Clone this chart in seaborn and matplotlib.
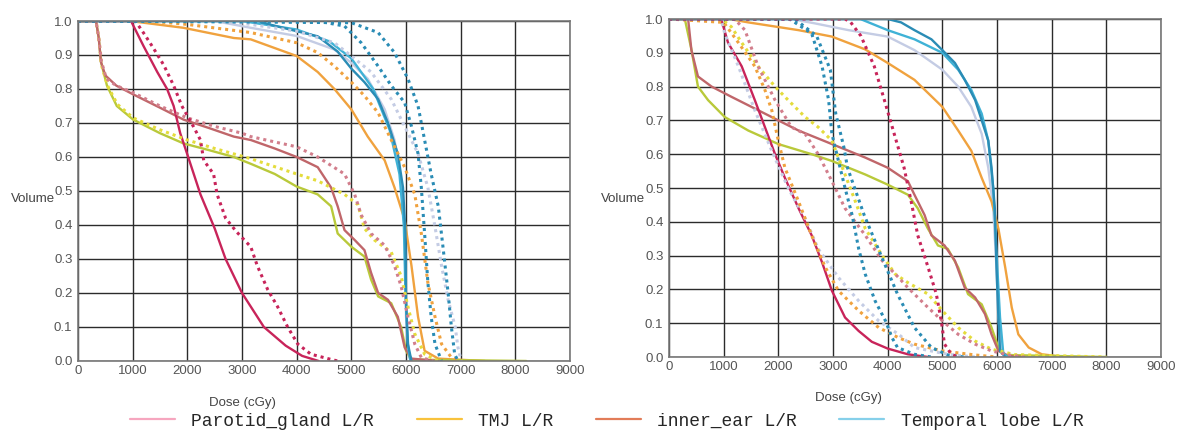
import matplotlib
matplotlib.use("Agg")
import matplotlib.pyplot as plt
import seaborn as sns
import pandas as pd
from matplotlib.lines import Line2D

# ---- data: (dose cGy, volume fraction) ----
# left panel, solid (plan A)
l_parotid_l = [(0, 1), (330, 1), (380, 0.95), (420, 0.88), (500, 0.84), (700, 0.81), (1000, 0.785),
               (1500, 0.745), (1930, 0.71), (2400, 0.685), (2850, 0.66), (3160, 0.65), (3600, 0.625),
               (4000, 0.60), (4385, 0.57), (4630, 0.51), (4750, 0.455), (4875, 0.385), (5060, 0.356),
               (5240, 0.326), (5360, 0.26), (5490, 0.20), (5670, 0.18), (5850, 0.13), (5975, 0.04),
               (6100, 0.007), (6590, 0)]
l_parotid_r = [(0, 1), (330, 1), (380, 0.95), (420, 0.88), (530, 0.81), (710, 0.75), (1010, 0.71),
               (1500, 0.67), (1930, 0.64), (2400, 0.62), (2850, 0.60), (3160, 0.58), (3600, 0.55),
               (4000, 0.513), (4385, 0.49), (4630, 0.455), (4750, 0.375), (5000, 0.336), (5240, 0.307),
               (5360, 0.24), (5490, 0.19), (5730, 0.17), (5910, 0.10), (6000, 0.03), (6100, 0.004), (8200, 0)]
l_inner_ear = [(0, 1), (970, 1), (1200, 0.926), (1450, 0.85), (1630, 0.80), (1750, 0.75), (1870, 0.67),
               (1995, 0.61), (2240, 0.49), (2500, 0.39), (2700, 0.30), (3000, 0.20), (3400, 0.10),
               (3800, 0.045), (4100, 0.015), (4400, 0)]
l_tmj = [(0, 1), (950, 1), (1930, 0.98), (2850, 0.95), (3160, 0.946), (4000, 0.897), (4385, 0.85),
         (4690, 0.80), (5000, 0.74), (5300, 0.66), (5610, 0.59), (5790, 0.51), (5975, 0.415), (6100, 0.28),
         (6220, 0.13), (6340, 0.03), (6590, 0.007), (7440, 0)]
l_temporal_lav = [(0, 1), (2500, 1), (3160, 0.98), (4000, 0.956), (4690, 0.916), (5000, 0.877), (5300, 0.83),
                  (5610, 0.74), (5790, 0.65), (5910, 0.53), (5975, 0.375), (6000, 0.13), (6060, 0.01), (6200, 0)]
l_temporal_cyan = [(0, 1), (3000, 1), (4000, 0.975), (4600, 0.94), (5000, 0.89), (5400, 0.80), (5700, 0.68),
                   (5880, 0.55), (5960, 0.40), (5990, 0.2), (6030, 0.05), (6080, 0)]
l_temporal_teal = [(0, 1), (3300, 1), (3500, 0.99), (4000, 0.97), (4385, 0.955), (4750, 0.91), (5000, 0.86),
                   (5240, 0.82), (5490, 0.77), (5670, 0.70), (5850, 0.61), (5945, 0.51), (5990, 0.375),
                   (6000, 0.18), (6035, 0.05), (6100, 0)]
# left panel, dotted (plan B)
l_inner_ear_d = [(0, 1), (1050, 1), (1220, 0.96), (1380, 0.92), (1570, 0.87), (1750, 0.81), (1900, 0.75),
                 (2110, 0.69), (2240, 0.65), (2300, 0.59), (2480, 0.55), (2545, 0.49), (2700, 0.42),
                 (2900, 0.38), (3160, 0.336), (3280, 0.28), (3470, 0.21), (3650, 0.16), (3835, 0.10),
                 (4020, 0.05), (4260, 0.02), (4570, 0.007), (4750, 0)]
l_parotid_l_d = [(0, 1), (330, 1), (380, 0.95), (430, 0.88), (520, 0.83), (700, 0.81), (1000, 0.79),
                 (1500, 0.75), (2000, 0.715), (2500, 0.69), (3000, 0.67), (3160, 0.66), (4000, 0.63),
                 (4385, 0.60), (4875, 0.55), (5060, 0.49), (5180, 0.43), (5360, 0.375), (5610, 0.34),
                 (5790, 0.28), (5910, 0.22), (6035, 0.13), (6160, 0.05), (6280, 0.01), (6500, 0)]
l_parotid_r_d = [(0, 1), (330, 1), (380, 0.95), (430, 0.87), (540, 0.81), (720, 0.755), (1010, 0.715),
                 (1500, 0.68), (2000, 0.65), (2500, 0.625), (3160, 0.595), (4000, 0.55), (4385, 0.53),
                 (4875, 0.49), (5120, 0.46), (5240, 0.39), (5420, 0.356), (5730, 0.32), (5910, 0.25),
                 (6035, 0.16), (6160, 0.08), (6340, 0.02), (6590, 0)]
l_tmj_d = [(0, 1), (1300, 1), (2000, 0.99), (3160, 0.966), (4000, 0.936), (4385, 0.907), (4690, 0.867),
           (5000, 0.82), (5240, 0.78), (5490, 0.73), (5730, 0.65), (5975, 0.57), (6160, 0.49), (6280, 0.375),
           (6400, 0.23), (6530, 0.13), (6650, 0.05), (6830, 0.01), (7000, 0)]
l_temporal_lav_d = [(0, 1), (2600, 1), (3160, 0.99), (4000, 0.97), (4690, 0.936), (5000, 0.897), (5360, 0.85),
                    (5730, 0.77), (5975, 0.69), (6220, 0.61), (6400, 0.51), (6530, 0.395), (6650, 0.28),
                    (6770, 0.18), (6900, 0.10), (6950, 0.04), (7010, 0)]
l_temporal_teal_d = [(0, 1), (4385, 1), (4875, 0.985), (5180, 0.936), (5490, 0.867), (5730, 0.81),
                     (5975, 0.76), (6100, 0.69), (6220, 0.61), (6280, 0.51), (6340, 0.375), (6400, 0.23),
                     (6460, 0.13), (6530, 0.05), (6650, 0)]
l_temporal_teal2_d = [(0, 1), (5000, 0.995), (5490, 0.966), (5790, 0.907), (6035, 0.83), (6220, 0.75),
                      (6340, 0.65), (6460, 0.55), (6590, 0.455), (6680, 0.33), (6770, 0.20), (6830, 0.10),
                      (6890, 0.02), (6950, 0)]

# right panel, solid
r_parotid_l = [(0, 1), (350, 1), (410, 0.908), (530, 0.83), (780, 0.80), (1140, 0.77), (1755, 0.72),
               (2000, 0.70), (2370, 0.67), (2980, 0.63), (3590, 0.59), (4000, 0.56), (4370, 0.52),
               (4490, 0.48), (4675, 0.42), (4800, 0.36), (5040, 0.33), (5230, 0.285), (5410, 0.205),
               (5600, 0.176), (5780, 0.127), (5900, 0.067), (6025, 0.018), (6210, 0.003), (6500, 0)]
r_parotid_r = [(0, 1), (290, 1), (410, 0.91), (530, 0.80), (715, 0.76), (1020, 0.71), (1450, 0.67),
               (2000, 0.63), (2610, 0.60), (2980, 0.58), (3590, 0.54), (4000, 0.51), (4370, 0.48),
               (4550, 0.44), (4735, 0.38), (4920, 0.33), (5100, 0.32), (5290, 0.265), (5470, 0.186),
               (5720, 0.156), (5900, 0.087), (6025, 0.028), (6150, 0.006), (8000, 0)]
r_inner_ear = [(0, 1), (950, 1), (990, 0.98), (1080, 0.93), (1330, 0.86), (1570, 0.76), (1755, 0.68),
               (1940, 0.60), (2120, 0.53), (2370, 0.44), (2610, 0.36), (2800, 0.28), (2980, 0.196),
               (3220, 0.117), (3470, 0.077), (3710, 0.045), (4000, 0.025), (4370, 0.008), (4740, 0)]
r_tmj = [(0, 1), (1100, 1), (1450, 0.99), (2370, 0.967), (2980, 0.948), (3590, 0.91), (4000, 0.87),
         (4490, 0.82), (5000, 0.74), (5290, 0.67), (5530, 0.61), (5720, 0.53), (5900, 0.46), (6025, 0.38),
         (6150, 0.265), (6270, 0.146), (6390, 0.067), (6580, 0.028), (6820, 0.008), (7250, 0)]
r_temporal_lav = [(0, 1), (2240, 1), (2670, 0.987), (3285, 0.967), (4000, 0.948), (4490, 0.908), (5000, 0.85),
                  (5290, 0.80), (5530, 0.74), (5720, 0.66), (5840, 0.56), (5930, 0.44), (5990, 0.265),
                  (6025, 0.117), (6085, 0.018), (6210, 0)]
r_temporal_cyan = [(0, 1), (3500, 1), (4000, 0.967), (4490, 0.94), (5000, 0.90), (5290, 0.85), (5530, 0.79),
                   (5720, 0.72), (5840, 0.64), (5930, 0.50), (5990, 0.31), (6055, 0.117), (6115, 0.01), (6200, 0)]
r_temporal_teal = [(0, 1), (4000, 1), (4245, 0.99), (4490, 0.967), (4800, 0.94), (5000, 0.908), (5230, 0.87),
                   (5410, 0.82), (5600, 0.76), (5720, 0.70), (5840, 0.64), (5900, 0.56), (5960, 0.44),
                   (5990, 0.265), (6025, 0.117), (6055, 0.018), (6150, 0)]
# right panel, dotted
r_parotid_r_d = [(0, 1), (960, 1), (1140, 0.977), (1330, 0.93), (1630, 0.86), (1940, 0.80), (2180, 0.76),
                 (2490, 0.71), (2730, 0.68), (2980, 0.64), (3220, 0.54), (3410, 0.46), (3590, 0.38),
                 (3900, 0.30), (4140, 0.245), (4370, 0.22), (4740, 0.186), (5000, 0.137), (5290, 0.087),
                 (5600, 0.047), (5900, 0.023), (6330, 0.007), (8000, 0)]
r_tmj_d = [(0, 1), (1000, 0.99), (1270, 0.93), (1570, 0.86), (1755, 0.79), (1880, 0.73), (2000, 0.64),
           (2120, 0.56), (2370, 0.46), (2610, 0.36), (2860, 0.265), (3100, 0.196), (3470, 0.137),
           (3835, 0.087), (4200, 0.057), (4490, 0.038), (5000, 0.018), (5600, 0.006), (6000, 0)]
r_temporal_lav_d = [(0, 1), (950, 1), (1020, 0.957), (1270, 0.86), (1570, 0.73), (1880, 0.61), (2180, 0.50),
                    (2490, 0.41), (2730, 0.32), (3100, 0.235), (3470, 0.166), (3835, 0.107), (4200, 0.067),
                    (4490, 0.028), (5100, 0.008), (5600, 0)]
r_parotid_l_d = [(0, 1), (1200, 1), (1390, 0.967), (1630, 0.86), (1940, 0.76), (2240, 0.68), (2490, 0.66),
                 (2730, 0.60), (2980, 0.52), (3220, 0.44), (3590, 0.36), (3900, 0.285), (4200, 0.235),
                 (4370, 0.205), (4740, 0.146), (5000, 0.107), (5290, 0.067), (5600, 0.038), (5900, 0.018),
                 (6210, 0.006), (6500, 0)]
r_temporal_teal_d = [(0, 1), (2200, 1), (2300, 0.99), (2610, 0.957), (2800, 0.86), (2920, 0.76), (2980, 0.66),
                     (3100, 0.58), (3220, 0.50), (3350, 0.42), (3470, 0.32), (3590, 0.245), (3770, 0.166),
                     (3960, 0.107), (4080, 0.057), (4180, 0.028), (4490, 0.008), (4800, 0)]
r_temporal_teal2_d = [(0, 1), (2300, 1), (2700, 0.95), (2950, 0.85), (3050, 0.72), (3200, 0.62), (3265, 0.56),
                      (3570, 0.42), (3880, 0.30), (4180, 0.186), (4490, 0.087), (4800, 0.028), (5100, 0.006),
                      (5400, 0)]
r_inner_ear_d = [(0, 1), (3220, 1), (3325, 0.99), (3510, 0.95), (3755, 0.86), (3940, 0.76), (4120, 0.66),
                 (4300, 0.56), (4430, 0.46), (4550, 0.36), (4740, 0.265), (4890, 0.186), (4980, 0.107),
                 (5040, 0.038), (5165, 0.008), (5290, 0)]

legend_labels = ["Parotid_gland L/R", "TMJ L/R", "inner_ear L/R", "Temporal lobe L/R"]
legend_colors = ["#f6a6bf", "#f8c23c", "#e27c58", "#86d0ea"]

C_ROSE, C_GREEN, C_CRIMSON = "#c0666a", "#b9c93a", "#c8245a"
C_ORANGE, C_LAV, C_CYAN, C_TEAL = "#f0a23e", "#c4cce4", "#3fb2d6", "#2a8cb5"
C_PINK_D, C_YELLOW_D = "#d27e8c", "#e4dc3c"

left_curves = [
    (l_temporal_lav, C_LAV, False), (l_tmj, C_ORANGE, False), (l_parotid_r, C_GREEN, False),
    (l_parotid_l, C_ROSE, False), (l_inner_ear, C_CRIMSON, False), (l_temporal_cyan, C_CYAN, False),
    (l_temporal_teal, C_TEAL, False),
    (l_temporal_lav_d, C_LAV, True), (l_tmj_d, C_ORANGE, True), (l_parotid_r_d, C_YELLOW_D, True),
    (l_parotid_l_d, C_PINK_D, True), (l_inner_ear_d, C_CRIMSON, True), (l_temporal_teal_d, C_TEAL, True),
    (l_temporal_teal2_d, C_TEAL, True),
]
right_curves = [
    (r_temporal_lav, C_LAV, False), (r_tmj, C_ORANGE, False), (r_parotid_r, C_GREEN, False),
    (r_parotid_l, C_ROSE, False), (r_inner_ear, C_CRIMSON, False), (r_temporal_cyan, C_CYAN, False),
    (r_temporal_teal, C_TEAL, False),
    (r_temporal_lav_d, C_LAV, True), (r_tmj_d, C_ORANGE, True), (r_parotid_r_d, C_YELLOW_D, True),
    (r_parotid_l_d, C_PINK_D, True), (r_temporal_teal_d, C_TEAL, True), (r_temporal_teal2_d, C_TEAL, True),
    (r_inner_ear_d, C_CRIMSON, True),
]

sns.set_style("white")
plt.rcParams["font.family"] = ["Liberation Sans", "DejaVu Sans"]

fig = plt.figure(figsize=(11.78, 4.33), dpi=100)
ax1 = fig.add_axes([0.0662, 0.1663, 0.4177, 0.7852])
ax2 = fig.add_axes([0.5679, 0.1755, 0.4177, 0.7806])


def draw_panel(ax, curves, xlab_x, ylab_x, ylab_y):
    for pts, color, dotted in curves:
        df = pd.DataFrame(pts, columns=["dose", "volume"])
        if dotted:
            sns.lineplot(data=df, x="dose", y="volume", ax=ax, color=color, lw=2.2,
                         linestyle=(0, (1, 1.3)), estimator=None, sort=False)
        else:
            sns.lineplot(data=df, x="dose", y="volume", ax=ax, color=color, lw=1.7,
                         estimator=None, sort=False)
    ax.set_xlim(0, 9000)
    ax.set_ylim(0, 1.0)
    ax.set_xticks(range(0, 9001, 1000))
    ax.set_yticks([i / 10 for i in range(11)])
    ax.set_yticklabels([f"{i / 10:.1f}" for i in range(11)])
    ax.grid(True, color="#2b2b2b", lw=1.0)
    ax.set_axisbelow(True)
    for sp in ax.spines.values():
        sp.set_color("#777777")
        sp.set_linewidth(1.2)
    ax.tick_params(axis="both", length=3, width=0.8, color="#444444",
                   labelcolor="#555555", labelsize=9.5, pad=1)
    ax.tick_params(axis="x", length=0, pad=3)
    ax.set_xlabel("Dose (cGy)", fontsize=9.5, color="#444444")
    ax.xaxis.set_label_coords(xlab_x, -0.105)
    ax.set_ylabel("Volume", rotation=0, fontsize=9.5, color="#444444")
    ax.yaxis.set_label_coords(ylab_x, ylab_y)


draw_panel(ax1, left_curves, 0.335, -0.092, 0.46)
draw_panel(ax2, right_curves, 0.364, -0.094, 0.45)

handles = [Line2D([0], [0], color=c, lw=1.6) for c in legend_colors]
fig.legend(handles, legend_labels, loc="center", bbox_to_anchor=(0.515, 0.027), ncol=4,
           frameon=False, prop={"family": "Liberation Mono", "size": 13},
           handlelength=2.5, handletextpad=0.9, columnspacing=2.35, borderpad=0, borderaxespad=0)

fig.savefig("out.png", dpi=100)
